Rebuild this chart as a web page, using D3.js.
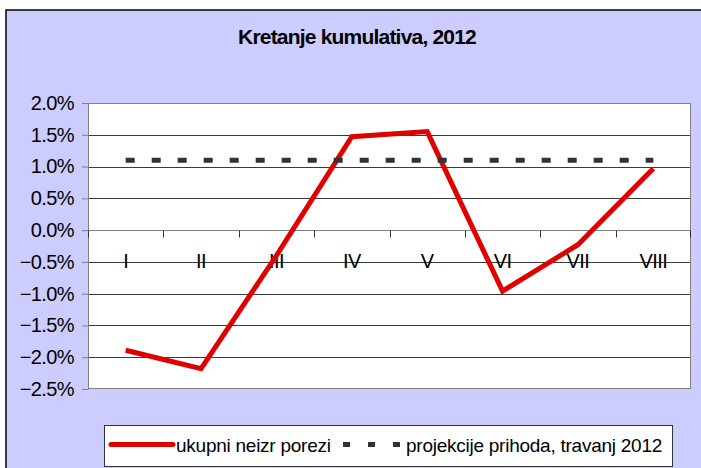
<!DOCTYPE html>
<html>
<head>
<meta charset="utf-8">
<script src="https://cdn.jsdelivr.net/npm/d3@7"></script>
<style>
  body { margin: 0; background: #fff; }
  text { font-family: "Liberation Sans", Arial, sans-serif; fill: #000; }
</style>
</head>
<body>
<div id="chart"></div>
<script>
const categories = ["I", "II", "III", "IV", "V", "VI", "VII", "VIII"];
const ukupni = [-1.89, -2.18, -0.40, 1.47, 1.55, -0.96, -0.23, 0.97];
const projekcije = [1.1, 1.1, 1.1, 1.1, 1.1, 1.1, 1.1, 1.1];
const yTicks = [2.0, 1.5, 1.0, 0.5, 0.0, -0.5, -1.0, -1.5, -2.0, -2.5];
const seriesNames = ["ukupni neizr porezi", "projekcije prihoda, travanj 2012"];
const title = "Kretanje kumulativa, 2012";

const W = 701, H = 468;
const margin = { left: 88, right: 10, top: 103, bottom: 79 };
const innerW = W - margin.left - margin.right;
const innerH = H - margin.top - margin.bottom;

const svg = d3.select("#chart").append("svg")
  .attr("width", W).attr("height", H);

// chart frame
svg.append("rect")
  .attr("x", 6).attr("y", 10)
  .attr("width", 720).attr("height", 480)
  .attr("fill", "#ccccff")
  .attr("stroke", "#111").attr("stroke-width", 1.6);

svg.append("text")
  .attr("x", 357).attr("y", 44)
  .attr("text-anchor", "middle")
  .style("font-size", "21px").style("font-weight", "bold")
  .style("letter-spacing", "-0.8px")
  .text(title);

const x = d3.scaleBand().domain(categories).range([0, innerW]);
const y = d3.scaleLinear().domain([-2.5, 2]).range([innerH, 0]);

const g = svg.append("g")
  .attr("transform", `translate(${margin.left},${margin.top})`);

g.append("rect")
  .attr("x", 0).attr("y", 0)
  .attr("width", innerW).attr("height", innerH)
  .attr("fill", "#fff");

// gridlines
const crisp = v => Math.round(v) + 0.5;
g.selectAll(".grid")
  .data(yTicks.slice(1, -1))
  .join("line")
  .attr("class", "grid")
  .attr("x1", 0).attr("x2", innerW)
  .attr("y1", d => crisp(y(d))).attr("y2", d => crisp(y(d)))
  .attr("stroke", "#3a3a3a").attr("stroke-width", 1);

g.append("rect")
  .attr("x", 0.5).attr("y", 0.5)
  .attr("width", innerW - 1).attr("height", innerH - 1)
  .attr("fill", "none").attr("stroke", "#808080");

// y axis
const yAxis = g.append("g")
  .call(d3.axisLeft(y).tickValues(yTicks).tickSize(6).tickPadding(8)
    .tickFormat(d => d3.format(".1%")(d / 100)));
yAxis.select(".domain").attr("stroke", "#808080");
yAxis.selectAll(".tick line").attr("stroke", "#808080");
yAxis.selectAll(".tick text")
  .style("font-size", "20px").style("letter-spacing", "-0.6px")
  .attr("fill", "#000").attr("font-family", null);

// x axis at zero, ticks on category boundaries
const y0 = crisp(y(0));
const xAxis = g.append("g");
xAxis.append("line")
  .attr("x1", 0).attr("x2", innerW)
  .attr("y1", y0).attr("y2", y0)
  .attr("stroke", "#808080");
xAxis.selectAll(".xtick")
  .data(categories.map(c => x(c)).concat([innerW]))
  .join("line")
  .attr("class", "xtick")
  .attr("x1", d => crisp(Math.min(d, innerW - 1))).attr("x2", d => crisp(Math.min(d, innerW - 1)))
  .attr("y1", y0).attr("y2", y0 + 7)
  .attr("stroke", "#333");
xAxis.selectAll(".xlabel")
  .data(categories)
  .join("text")
  .attr("class", "xlabel")
  .attr("x", d => x(d) + x.bandwidth() / 2)
  .attr("y", y(0) + 38)
  .attr("text-anchor", "middle")
  .style("font-size", "20px").style("letter-spacing", "-0.6px")
  .text(d => d);

const line = d3.line()
  .x((d, i) => x(categories[i]) + x.bandwidth() / 2)
  .y(d => y(d));

g.append("path")
  .datum(ukupni)
  .attr("d", line)
  .attr("fill", "none")
  .attr("stroke", "#e00000").attr("stroke-width", 5)
  .attr("stroke-linejoin", "miter");

g.append("path")
  .datum(projekcije)
  .attr("d", line)
  .attr("fill", "none")
  .attr("stroke", "#333").attr("stroke-width", 5)
  .attr("stroke-dasharray", "9,17");

// legend
const lg = svg.append("g");
lg.append("rect")
  .attr("x", 104.5).attr("y", 425.5)
  .attr("width", 568).attr("height", 41)
  .attr("fill", "#fff").attr("stroke", "#333");
lg.append("line")
  .attr("x1", 111).attr("x2", 173).attr("y1", 444.5).attr("y2", 444.5)
  .attr("stroke", "#e00000").attr("stroke-width", 5).attr("stroke-linecap", "round");
lg.append("text")
  .attr("x", 176).attr("y", 452)
  .style("font-size", "19px").style("letter-spacing", "-0.25px")
  .text(seriesNames[0]);
lg.append("line")
  .attr("x1", 343).attr("x2", 401).attr("y1", 444.5).attr("y2", 444.5)
  .attr("stroke", "#333").attr("stroke-width", 5)
  .attr("stroke-dasharray", "7,18");
lg.append("text")
  .attr("x", 406).attr("y", 452)
  .style("font-size", "19px").style("letter-spacing", "-0.25px")
  .text(seriesNames[1]);
</script>
</body>
</html>
